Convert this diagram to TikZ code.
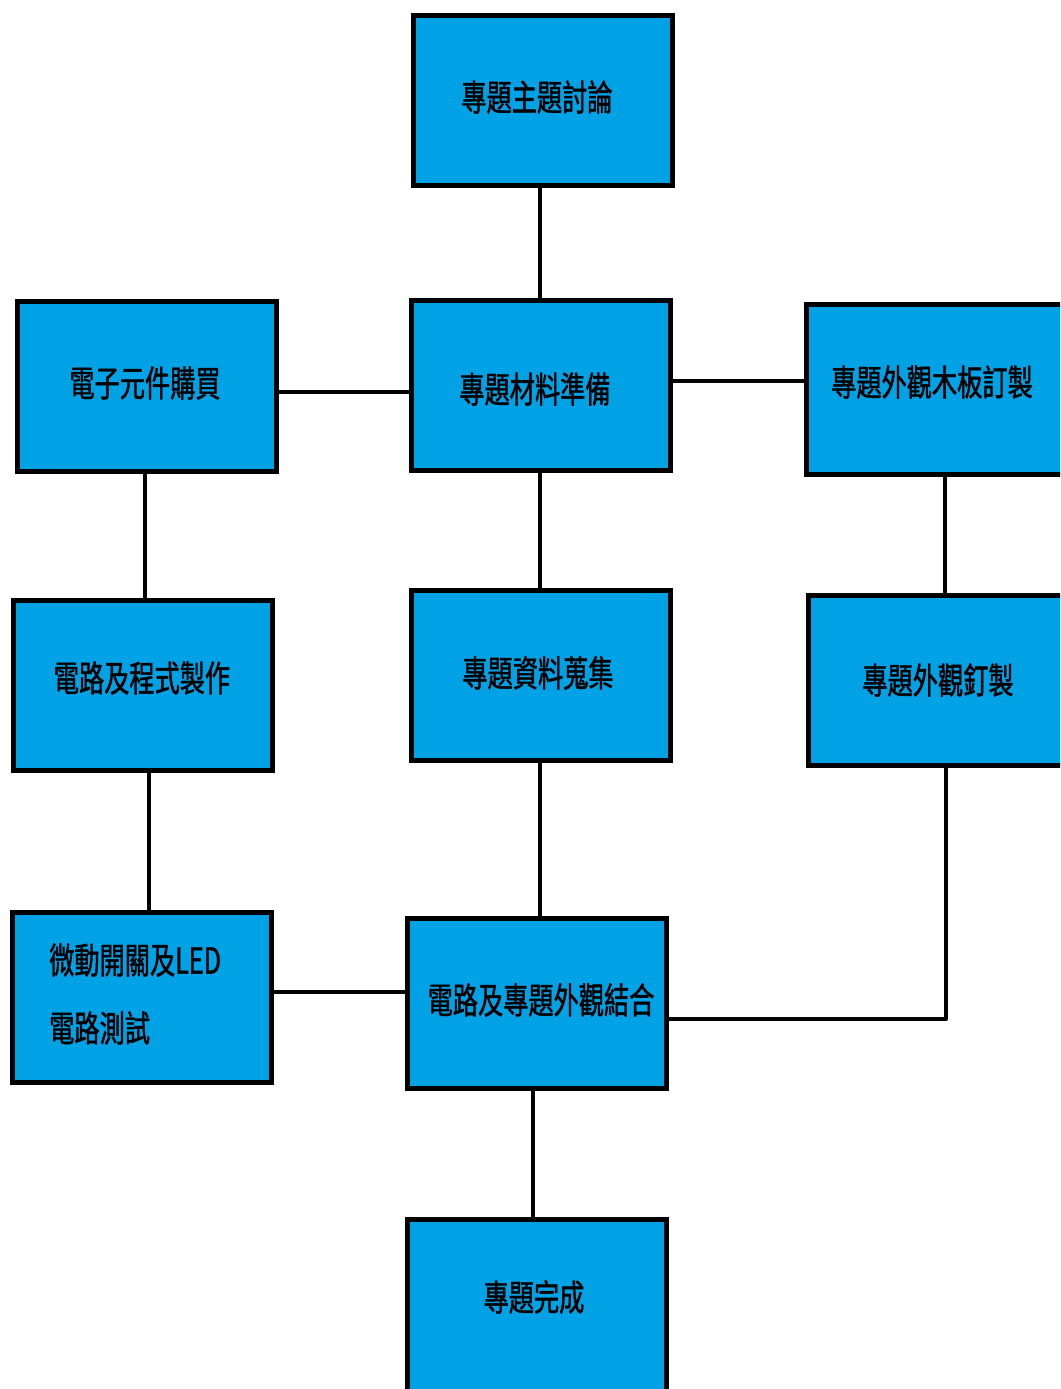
\documentclass[tikz,border=0pt]{standalone}
\usepackage{fontspec}
\newfontfamily\cjk[FakeStretch=0.70,FakeBold=1.2]{Noto Sans CJK TC}
\definecolor{boxblue}{RGB}{0,162,230}
\begin{document}
\begin{tikzpicture}[x=1pt,y=-1pt,
  box/.style={rectangle,draw=black,line width=5pt,fill=boxblue,
    minimum width=259pt,minimum height=170pt,inner sep=0pt,
    font=\cjk\fontsize{36pt}{44pt}\selectfont},
  lbl/.style={font=\cjk\fontsize{36pt}{68pt}\selectfont,align=left,inner sep=0pt},
  conn/.style={line width=4pt,line join=round}]
\useasboundingbox (0,0) rectangle (1060,1389);
\clip (0,0) rectangle (1060,1389);
\node[box] (b1) at (543,100.5) {};
\node[lbl] (t1) at (537,97) {專題主題討論};
\node[box] (b2) at (147,386.5) {};
\node[lbl] (t2) at (145,383) {電子元件購買};
\node[box] (b3) at (541,385) {};
\node[lbl] (t3) at (535,389) {專題材料準備};
\node[box] (b4) at (936,389.5) {};
\node[lbl] (t4) at (932,382) {專題外觀木板訂製};
\node[box] (b5) at (142.5,685.5) {};
\node[lbl] (t5) at (142,678) {電路及程式製作};
\node[box] (b6) at (541,675.5) {};
\node[lbl] (t6) at (538,673) {專題資料蒐集};
\node[box] (b7) at (938,680) {};
\node[lbl] (t7) at (938,680) {專題外觀釘製};
\node[box] (b8) at (141.5,997) {};
\node[lbl,anchor=west] (t8) at (49,994) {微動開關及LED\\電路測試};
\node[box] (b9) at (537,1003.5) {};
\node[lbl] (t9) at (541,1000) {電路及專題外觀結合};
\node[box,minimum height=200pt] (b10) at (536.5,1319.5) {};
\node[lbl] (t10) at (534,1297) {專題完成};
% connectors
\coordinate (c13) at ([xshift=-1pt]b3.north);
\draw[conn] (c13) -- (c13 |- b1.south);
\coordinate (c23) at ([yshift=-5.5pt]b2.east);
\draw[conn] (c23) -- (c23 -| b3.west);
\coordinate (c34) at ([yshift=4pt]b3.east);
\draw[conn] (c34) -- (c34 -| b4.west);
\coordinate (c25) at ([xshift=-2pt]b2.south);
\draw[conn] (c25) -- (c25 |- b5.north);
\coordinate (c36) at ([xshift=-1pt]b3.south);
\draw[conn] (c36) -- (c36 |- b6.north);
\coordinate (c47) at ([xshift=9pt]b4.south);
\draw[conn] (c47) -- (c47 |- b7.north);
\coordinate (c58) at ([xshift=6.5pt]b5.south);
\draw[conn] (c58) -- (c58 |- b8.north);
\coordinate (c69) at ([xshift=-1pt]b6.south);
\draw[conn] (c69) -- (c69 |- b9.north);
\coordinate (c79a) at ([xshift=8pt]b7.south);
\coordinate (c79b) at ([yshift=-15.5pt]b9.east);
\draw[conn] (c79a) |- (c79b);
\coordinate (c89) at ([yshift=5pt]b8.east);
\draw[conn] (c89) -- (c89 -| b9.west);
\coordinate (c910) at ([xshift=-4pt]b9.south);
\draw[conn] (c910) -- (c910 |- b10.north);
\end{tikzpicture}
\end{document}
